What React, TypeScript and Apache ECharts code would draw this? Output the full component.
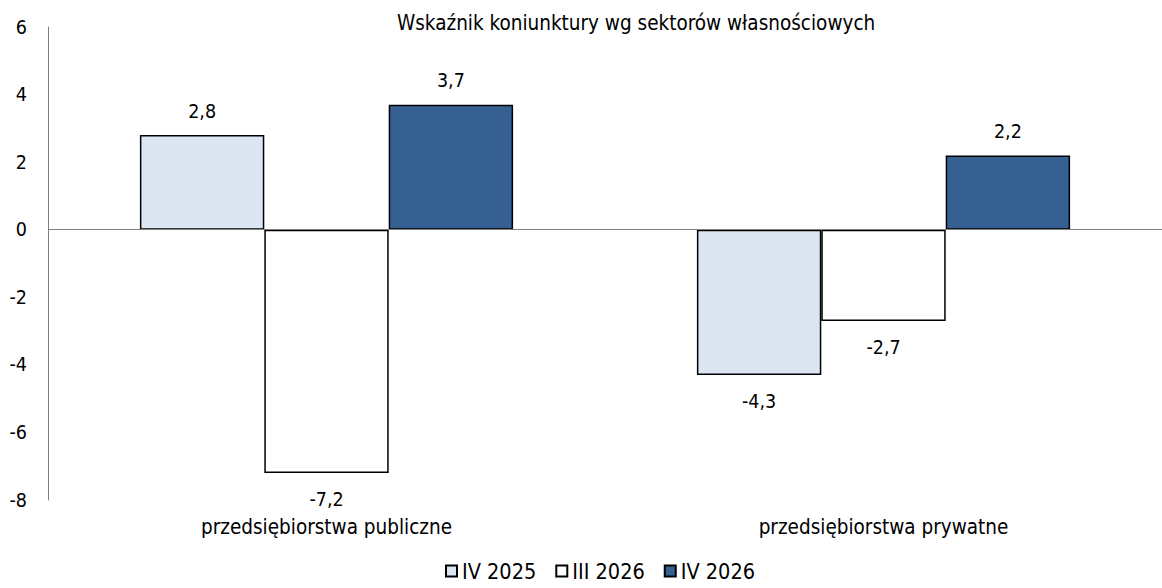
import React, { useEffect, useRef } from "react";
import * as echarts from "echarts";

const categories = ["przedsiębiorstwa publiczne", "przedsiębiorstwa prywatne"];
const seriesNames = ["IV 2025", "III 2026", "IV 2026"];
const iv2025 = [2.8, -4.3];
const iii2026 = [-7.2, -2.7];
const iv2026 = [3.7, 2.2];
const yTicks = { min: -8, max: 6, interval: 2 };
const title = "Wskaźnik koniunktury wg sektorów własnościowych";

const colors = ["#DCE6F2", "#FFFFFF", "#376092"];
const FONT = "'DejaVu Sans Condensed', 'DejaVu Sans'";

export default function App() {
  const ref = useRef<HTMLDivElement>(null);
  useEffect(() => {
    if (!ref.current) return;
    const chart = echarts.init(ref.current, null, { renderer: "svg" });
    const values = [iv2025, iii2026, iv2026];
    const fmt = (v: number) => v.toFixed(1).replace(".", ",");
    chart.setOption({
      animation: false,
      title: {
        text: title,
        left: 392,
        top: 7,
        textStyle: { fontFamily: FONT, fontSize: 20.5, fontWeight: "normal", color: "#000" },
      },
      legend: {
        bottom: 1,
        left: 440,
        icon: "rect",
        itemWidth: 11,
        itemHeight: 11,
        itemGap: 19,
        textStyle: { fontFamily: FONT, fontSize: 21.5, color: "#000" },
        data: seriesNames,
      },
      grid: { left: 48, width: 1118, top: 27, bottom: 88, containLabel: false },
      xAxis: {
        type: "category",
        data: categories,
        axisLine: { show: false, onZero: false },
        axisTick: { show: false },
        axisLabel: { fontFamily: FONT, fontSize: 20.5, color: "#000", margin: 16 },
      },
      yAxis: {
        type: "value",
        min: yTicks.min,
        max: yTicks.max,
        interval: yTicks.interval,
        axisLine: { show: true, lineStyle: { color: "#808080", width: 1 } },
        axisTick: { show: false },
        splitLine: { show: false },
        axisLabel: { fontFamily: FONT, fontSize: 19.5, color: "#000", margin: 21 },
      },
      series: seriesNames.map((name, i) => ({
        name,
        type: "bar",
        barGap: "0%",
        barCategoryGap: "33%",
        itemStyle: { color: colors[i], borderColor: "#000", borderWidth: 1.5 },
        data: values[i].map((v) => ({
          value: v,
          label: {
            show: true,
            position: v >= 0 ? "top" : "bottom",
            distance: v >= 0 ? 14 : 17,
            formatter: () => fmt(v),
            fontFamily: FONT,
            fontSize: 19.5,
            color: "#000",
          },
        })),
        markLine:
          i === 0
            ? {
                silent: true,
                symbol: "none",
                label: { show: false },
                lineStyle: { color: "#808080", width: 1, type: "solid" },
                data: [{ yAxis: 0 }],
              }
            : undefined,
        z: 3,
      })),
    });
    return () => chart.dispose();
  }, []);
  return <div ref={ref} style={{ width: 1162, height: 588, position: "absolute", left: 0, top: 0 }} />;
}
